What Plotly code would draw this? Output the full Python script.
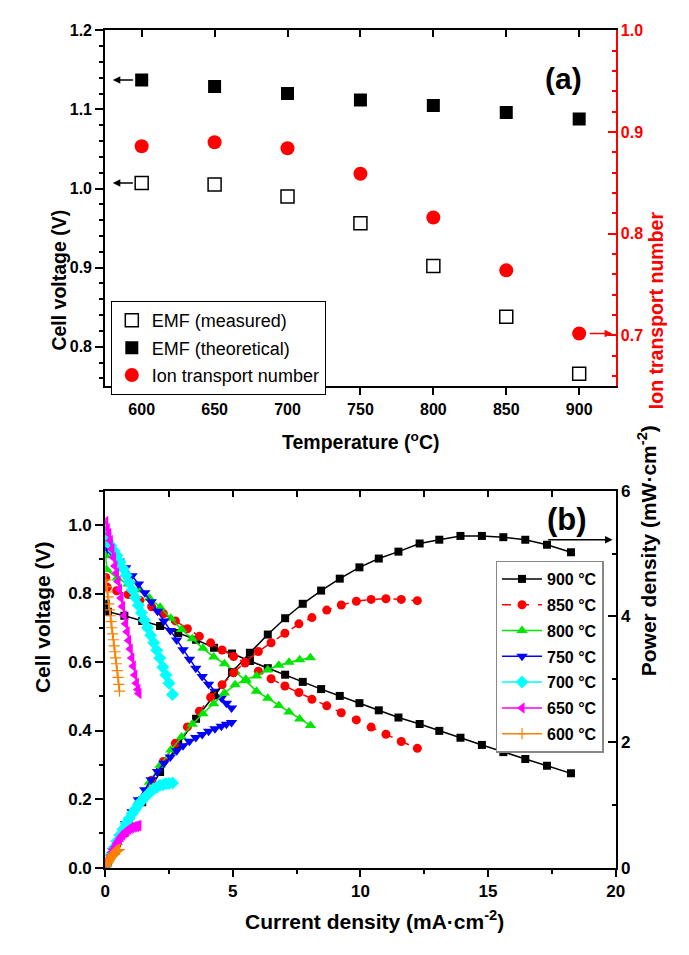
import plotly.graph_objects as go

# ---------------- Data: panel (a) ----------------
temps = [600, 650, 700, 750, 800, 850, 900]
emf_measured = [1.007, 1.005, 0.990, 0.956, 0.902, 0.838, 0.766]
emf_theoretical = [1.137, 1.129, 1.120, 1.112, 1.105, 1.096, 1.088]
ion_transport = [0.886, 0.890, 0.884, 0.859, 0.816, 0.764, 0.702]

# ---------------- Data: panel (b) ----------------
i_900 = [0.02, 0.1, 0.75, 1.45, 2.15, 2.86, 3.56, 4.26, 4.97, 5.67, 6.37, 7.05, 7.74, 8.46, 9.19,
         9.96, 10.72, 11.49, 12.32, 13.09, 13.92, 14.76, 15.6, 16.46, 17.31, 18.25]
v_900 = [0.77, 0.747, 0.735, 0.72, 0.705, 0.685, 0.665, 0.642, 0.625, 0.603, 0.582, 0.563, 0.542,
         0.521, 0.501, 0.480, 0.459, 0.438, 0.419, 0.399, 0.379, 0.358, 0.337, 0.317, 0.297, 0.275]
p_900 = [0.02, 0.07, 0.55, 1.04, 1.52, 1.96, 2.37, 2.74, 3.11, 3.42, 3.71, 3.97, 4.2, 4.41, 4.6,
         4.78, 4.92, 5.03, 5.16, 5.22, 5.28, 5.28, 5.26, 5.22, 5.14, 5.02]

i_850 = [0.02, 0.08, 0.45, 0.9, 1.36, 1.82, 2.28, 2.75, 3.22, 3.69, 4.13, 4.58, 5.03, 5.48, 6.0,
         6.5, 7.04, 7.59, 8.1, 8.68, 9.25, 9.84, 10.42, 11.0, 11.6, 12.23]
v_850 = [0.847, 0.818, 0.808, 0.797, 0.78, 0.761, 0.741, 0.72, 0.697, 0.675, 0.656, 0.635, 0.616,
         0.597, 0.573, 0.551, 0.530, 0.511, 0.491, 0.472, 0.452, 0.431, 0.410, 0.389, 0.368, 0.348]
p_850 = [0.02, 0.07, 0.36, 0.72, 1.06, 1.39, 1.69, 1.98, 2.24, 2.49, 2.71, 2.91, 3.1, 3.27, 3.44,
         3.58, 3.73, 3.88, 3.98, 4.1, 4.18, 4.24, 4.27, 4.28, 4.27, 4.25]

i_800 = [0.02, 0.06, 0.47, 0.89, 1.31, 1.73, 2.15, 2.57, 2.99, 3.41, 3.83, 4.25, 4.67, 5.09, 5.51,
         5.93, 6.37, 6.8, 7.2, 7.62, 8.04]
v_800 = [0.91, 0.87, 0.845, 0.828, 0.81, 0.787, 0.76, 0.728, 0.695, 0.668, 0.64, 0.615, 0.595,
         0.572, 0.545, 0.515, 0.494, 0.473, 0.454, 0.434, 0.415]
p_800 = [0.02, 0.05, 0.4, 0.74, 1.06, 1.36, 1.63, 1.87, 2.08, 2.28, 2.45, 2.61, 2.78, 2.91, 3.0,
         3.05, 3.15, 3.22, 3.27, 3.31, 3.34]

i_750 = [0.02, 0.1, 0.3, 0.55, 0.8, 1.05, 1.3, 1.55, 1.8, 2.05, 2.3, 2.55, 2.8, 3.05, 3.3, 3.55,
         3.8, 4.05, 4.3, 4.55, 4.75, 4.95]
v_750 = [0.95, 0.93, 0.915, 0.895, 0.875, 0.852, 0.828, 0.802, 0.776, 0.748, 0.72, 0.692, 0.664,
         0.636, 0.608, 0.582, 0.558, 0.535, 0.515, 0.495, 0.48, 0.466]
p_750 = [0.02, 0.09, 0.27, 0.49, 0.7, 0.89, 1.08, 1.24, 1.4, 1.53, 1.66, 1.76, 1.86, 1.94, 2.01,
         2.07, 2.12, 2.17, 2.21, 2.25, 2.28, 2.31]

i_700 = [0.02, 0.1, 0.22, 0.34, 0.46, 0.58, 0.7, 0.82, 0.94, 1.06, 1.18, 1.3, 1.42, 1.54, 1.66,
         1.78, 1.9, 2.02, 2.14, 2.26, 2.38, 2.5, 2.64]
v_700 = [0.975, 0.955, 0.94, 0.925, 0.91, 0.892, 0.873, 0.853, 0.832, 0.81, 0.788, 0.766, 0.744,
         0.722, 0.7, 0.678, 0.656, 0.634, 0.612, 0.585, 0.562, 0.538, 0.505]
p_700 = [0.02, 0.1, 0.21, 0.31, 0.42, 0.52, 0.61, 0.7, 0.78, 0.86, 0.93, 1.0, 1.06, 1.11, 1.16,
         1.21, 1.25, 1.28, 1.31, 1.32, 1.335, 1.34, 1.345]

i_650 = [0.02, 0.08, 0.14, 0.2, 0.26, 0.32, 0.38, 0.44, 0.5, 0.56, 0.62, 0.68, 0.74, 0.8, 0.86,
         0.92, 0.98, 1.04, 1.1, 1.16, 1.22, 1.28, 1.32]
v_650 = [1.01, 0.99, 0.975, 0.955, 0.93, 0.905, 0.88, 0.86, 0.835, 0.812, 0.787, 0.762, 0.735,
         0.712, 0.688, 0.663, 0.638, 0.612, 0.588, 0.562, 0.538, 0.52, 0.508]
p_650 = [0.02, 0.08, 0.14, 0.19, 0.24, 0.29, 0.33, 0.38, 0.42, 0.455, 0.49, 0.52, 0.545, 0.57,
         0.59, 0.61, 0.625, 0.636, 0.647, 0.652, 0.656, 0.666, 0.671]

i_600 = [0.02, 0.05, 0.08, 0.11, 0.14, 0.17, 0.2, 0.23, 0.26, 0.29, 0.32, 0.35, 0.38, 0.41, 0.44,
         0.47, 0.5, 0.53, 0.56]
v_600 = [0.84, 0.82, 0.805, 0.79, 0.77, 0.752, 0.735, 0.718, 0.7, 0.682, 0.665, 0.647, 0.63, 0.612,
         0.595, 0.575, 0.555, 0.535, 0.515]
p_600 = [0.017, 0.041, 0.064, 0.087, 0.108, 0.128, 0.147, 0.165, 0.182, 0.198, 0.213, 0.226,
         0.239, 0.251, 0.262, 0.27, 0.278, 0.284, 0.288]

legend_labels_b = ["900 °C", "850 °C", "800 °C", "750 °C", "700 °C", "650 °C", "600 °C"]

# ---------------- Layout helpers ----------------
W, H = 689, 955
FONT = "Liberation Sans, Arial, sans-serif"


def fx(p):
    return p / W


def fy(p):
    return 1 - p / H


xdom = [fx(102.3), fx(623.3)]
ya_dom = [fy(385), fy(21.7)]
yb_dom = [fy(876), fy(491.5)]

tick_a = dict(family=FONT, size=16, color="black", weight="bold")
tick_b = dict(family=FONT, size=17, color="black", weight="bold")

fig = go.Figure()

# ---------------- Panel (a) traces ----------------
fig.add_trace(go.Scatter(
    x=temps, y=emf_measured, mode="markers", name="EMF (measured)",
    marker=dict(symbol="square-open", size=13, color="black", line=dict(width=1.5, color="black")),
    xaxis="x", yaxis="y", legend="legend2", legendgroup="a1"))
fig.add_trace(go.Scatter(
    x=temps, y=emf_theoretical, mode="markers", name="EMF (theoretical)",
    marker=dict(symbol="square", size=13, color="black"),
    xaxis="x", yaxis="y", legend="legend2", legendgroup="a2"))
fig.add_trace(go.Scatter(
    x=temps, y=ion_transport, mode="markers", name="Ion transport number",
    marker=dict(symbol="circle", size=14, color="#FF0000"),
    xaxis="x", yaxis="y2", legend="legend2", legendgroup="a3"))
# dummy trace for top inside ticks of (a)
fig.add_trace(go.Scatter(x=[None], y=[None], xaxis="x3", yaxis="y", showlegend=False,
                         hoverinfo="skip"))

# ---------------- Panel (b) traces ----------------
series_b = [
    (i_900, v_900, p_900, "#000000", "square", 8, "solid"),
    (i_850, v_850, p_850, "#FF0000", "circle", 9, "dash"),
    (i_800, v_800, p_800, "#00E600", "triangle-up", 10, "solid"),
    (i_750, v_750, p_750, "#0000FF", "triangle-down", 10, "solid"),
    (i_700, v_700, p_700, "#00FFFF", "diamond", 10, "solid"),
    (i_650, v_650, p_650, "#FF00FF", "triangle-left", 10, "solid"),
    (i_600, v_600, p_600, "#FF8000", "cross-thin-open", 8, "solid"),
]
for k, (ii, vv, pp, col, sym, sz, dash) in enumerate(series_b):
    mk = dict(symbol=sym, size=sz, color=col)
    if sym == "cross-thin-open":
        mk["line"] = dict(width=1.2, color=col)
    fig.add_trace(go.Scatter(
        x=ii, y=vv, mode="lines+markers", name=legend_labels_b[k],
        line=dict(color=col, width=1.5, dash=dash), marker=mk,
        xaxis="x2", yaxis="y3", legend="legend", legendgroup=f"b{k}"))
    fig.add_trace(go.Scatter(
        x=ii, y=pp, mode="lines+markers", name=legend_labels_b[k],
        line=dict(color=col, width=1.5, dash=dash), marker=mk,
        xaxis="x2", yaxis="y4", showlegend=False, legendgroup=f"b{k}"))
fig.add_trace(go.Scatter(x=[None], y=[None], xaxis="x4", yaxis="y3", showlegend=False,
                         hoverinfo="skip"))

# ---------------- Axes ----------------
axis_common = dict(showgrid=False, zeroline=False, showline=True, linewidth=2,
                   linecolor="black", tickwidth=1.5, tickcolor="black")

fig.update_layout(
    xaxis=dict(domain=xdom, anchor="y", range=[575, 925], tick0=600, dtick=50,
               ticks="outside", ticklen=7, mirror=True, tickfont=tick_a, **axis_common),
    xaxis3=dict(overlaying="x", side="top", anchor="y", range=[575, 925], tick0=600, dtick=50,
                ticks="inside", ticklen=7, tickwidth=1.5, tickcolor="black",
                showticklabels=False, showline=False, showgrid=False, zeroline=False),
    yaxis=dict(domain=ya_dom, anchor="x", range=[0.75, 1.2], tick0=0.8, dtick=0.1,
               tickformat=".1f", ticks="outside", ticklen=8, tickfont=tick_a,
               minor=dict(tick0=0.8, dtick=0.02, ticks="outside", ticklen=4, tickwidth=1.5,
                          tickcolor="black"),
               **axis_common),
    yaxis2=dict(overlaying="y", side="right", anchor="x", range=[0.65, 1.0], tick0=0.7,
                dtick=0.1, tickformat=".1f", ticks="inside", ticklen=8, showgrid=False,
                zeroline=False, showline=True, linewidth=2, linecolor="#FF0000",
                tickcolor="#FF0000", tickwidth=1.5,
                tickfont=dict(family=FONT, size=16, color="#FF0000", weight="bold"),
                minor=dict(tick0=0.7, dtick=0.02, ticks="inside", ticklen=4, tickwidth=1.5,
                           tickcolor="#FF0000")),
    xaxis2=dict(domain=xdom, anchor="y3", range=[0, 20], tick0=0, dtick=5, ticks="outside",
                ticklen=7, mirror=True, tickfont=tick_b,
                minor=dict(dtick=2.5, ticks="outside", ticklen=4, tickwidth=1.5,
                           tickcolor="black"),
                **axis_common),
    xaxis4=dict(overlaying="x2", side="top", anchor="y3", range=[0, 20], tick0=0, dtick=2.5,
                ticks="inside", ticklen=6, tickwidth=1.5, tickcolor="black",
                showticklabels=False, showline=False, showgrid=False, zeroline=False),
    yaxis3=dict(domain=yb_dom, anchor="x2", range=[0, 1.1], tick0=0, dtick=0.2,
                tickformat=".1f", ticks="outside", ticklen=8, tickfont=tick_b,
                minor=dict(tick0=0, dtick=0.1, ticks="outside", ticklen=4, tickwidth=1.5,
                           tickcolor="black"),
                **axis_common),
    yaxis4=dict(overlaying="y3", side="right", anchor="x2", range=[0, 6], tick0=0, dtick=2,
                ticks="inside", ticklen=8, tickfont=tick_b,
                minor=dict(tick0=0, dtick=1, ticks="inside", ticklen=4, tickwidth=1.5,
                           tickcolor="black"),
                **axis_common),
)

# ---------------- Legends ----------------
fig.update_layout(
    showlegend=True,
    legend=dict(x=fx(500.7), y=fy(562.7), xanchor="left", yanchor="top",
                bgcolor="white", bordercolor="#888888", borderwidth=1.5,
                font=dict(family=FONT, size=16, color="black", weight="bold"),
                tracegroupgap=2, itemwidth=40),
    legend2=dict(x=fx(108), y=fy(298), xanchor="left", yanchor="top",
                 bgcolor="white", bordercolor="black", borderwidth=1,
                 font=dict(family=FONT, size=18, color="black"),
                 tracegroupgap=1, itemwidth=30),
)

# ---------------- Annotations ----------------
ann = []
title_a = dict(family=FONT, size=19.5, color="black", weight="bold")
title_b = dict(family=FONT, size=21, color="black", weight="bold")
ann.append(dict(text="(a)", x=fx(591), y=fy(52), xref="paper", yref="paper", showarrow=False,
                font=dict(family=FONT, size=30, color="black", weight="bold")))
ann.append(dict(text="(b)", x=fx(596), y=fy(521), xref="paper", yref="paper", showarrow=False,
                font=dict(family=FONT, size=31, color="black", weight="bold")))
ann.append(dict(text="Temperature (<sup>o</sup>C)", x=fx(363), y=fy(441), xref="paper",
                yref="paper", showarrow=False, font=title_a))
ann.append(dict(text="Cell voltage (V)", x=fx(42), y=fy(203), xref="paper", yref="paper",
                showarrow=False, textangle=-90, font=title_a))
ann.append(dict(text="Ion transport number", x=fx(678), y=fy(204), xref="paper", yref="paper",
                showarrow=False, textangle=-90,
                font=dict(family=FONT, size=19.5, color="#FF0000", weight="bold")))
ann.append(dict(text="Current density (mA·cm<sup>-2</sup>)", x=fx(377), y=fy(945),
                xref="paper", yref="paper", showarrow=False, font=title_b))
ann.append(dict(text="Cell voltage (V)", x=fx(24), y=fy(700), xref="paper", yref="paper",
                showarrow=False, textangle=-90, font=title_b))
ann.append(dict(text="Power density (mW·cm<sup>-2</sup>)", x=fx(671), y=fy(683),
                xref="paper", yref="paper", showarrow=False, textangle=-90, font=title_b))

# arrows in (a): point to the axes that each series uses
for yv in (emf_theoretical[0], emf_measured[0]):
    ann.append(dict(x=580.2, y=yv, ax=595, ay=yv, xref="x", yref="y", axref="x", ayref="y",
                    text="", showarrow=True, arrowhead=2, arrowsize=1, arrowwidth=1.5,
                    arrowcolor="black"))
ann.append(dict(x=922.6, y=ion_transport[-1], ax=906.2, ay=ion_transport[-1], xref="x",
                yref="y2", axref="x", ayref="y2", text="", showarrow=True, arrowhead=2,
                arrowsize=1, arrowwidth=1.5, arrowcolor="#FF0000"))
# arrow in (b): power curves belong to the right axis
ann.append(dict(x=19.88, y=5.22, ax=17.3, ay=5.22, xref="x2", yref="y4", axref="x2",
                ayref="y4", text="", showarrow=True, arrowhead=2, arrowsize=1,
                arrowwidth=1.5, arrowcolor="black"))

fig.update_layout(
    annotations=ann,
    width=W, height=H,
    margin=dict(l=0, r=0, t=0, b=0),
    paper_bgcolor="white", plot_bgcolor="white",
    font=dict(family=FONT, color="black"),
)

fig.write_html("out.html")
